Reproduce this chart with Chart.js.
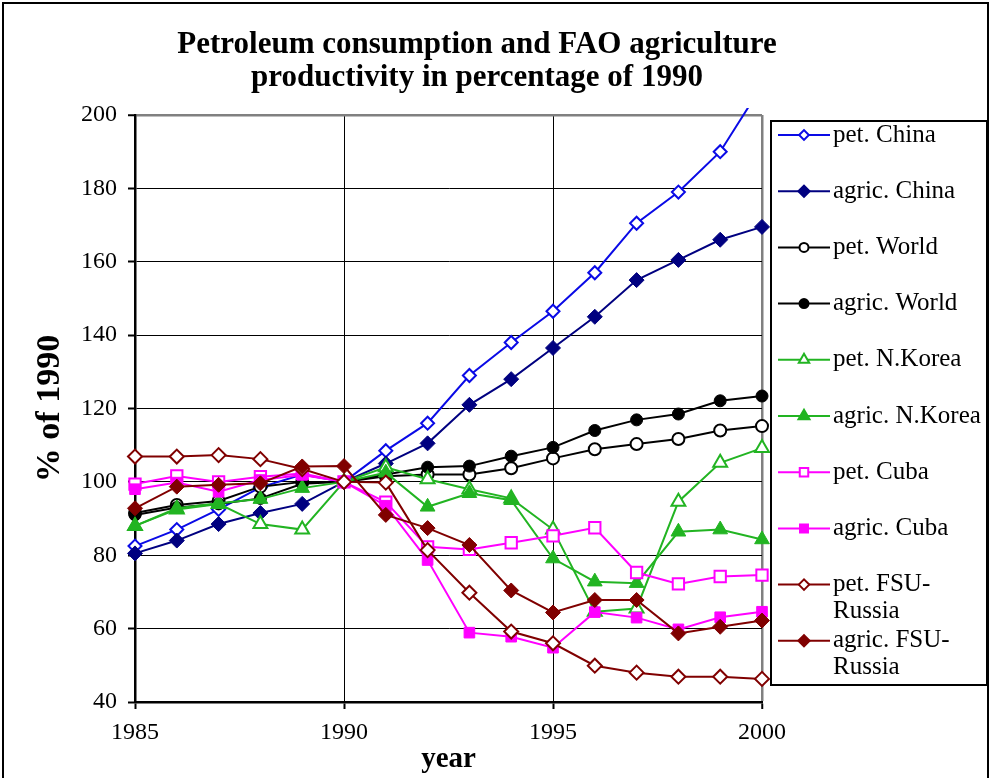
<!DOCTYPE html>
<html>
<head>
<meta charset="utf-8">
<script src="https://cdn.jsdelivr.net/npm/chart.js@4.4.1/dist/chart.umd.min.js"></script>
<style>
  html, body { margin: 0; padding: 0; background: #fff; }
  #wrap { width: 990px; height: 778px; position: relative; }
</style>
</head>
<body>
<div id="wrap"><canvas id="petro"></canvas></div>
<script>
// values, % of 1990
const years = [1985, 1986, 1987, 1988, 1989, 1990, 1991, 1992, 1993, 1994, 1995, 1996, 1997, 1998, 1999, 2000];
const petChina   = [82.5, 87, 92.5, 98.5, 102, 100, 108.5, 116, 129, 138, 146.5, 157, 170.5, 179, 190, 208];
const agricChina = [80.5, 84, 88.5, 91.5, 94, 100, 105, 110.5, 121, 128, 136.5, 145, 155, 160.5, 166, 169.5];
const petWorld   = [91.5, 93.7, 94.8, 98.7, 100, 100, 101.5, 102, 102, 103.7, 106.4, 108.9, 110.3, 111.7, 114, 115.2];
const agricWorld = [91, 93, 94, 95.5, 99.5, 100, 102, 104, 104.3, 107, 109.4, 114, 116.9, 118.5, 122.1, 123.4];
const petNKorea  = [88, 92.5, 94, 88.5, 87, 100, 104, 100.7, 98, 95.5, 87, 64.6, 65.5, 94.6, 105.2, 109.2];
const agricNKorea = [88, 92.8, 94.2, 95.3, 98.3, 100, 102.5, 93.2, 96.9, 95, 79.1, 72.8, 72.4, 86.4, 87, 84.3];
const petCuba    = [99.4, 101.6, 100, 101.4, 102.3, 100, 94.5, 82.3, 81.6, 83.4, 85.3, 87.5, 75.3, 72.2, 74.2, 74.6];
const agricCuba  = [98, 99.8, 97.3, 100.5, 101.9, 100, 93.5, 78.7, 58.9, 57.8, 54.8, 64.5, 63, 59.8, 63.1, 64.6];
const petFSU     = [106.9, 106.9, 107.3, 106.2, 103.5, 100, 99.8, 81.4, 69.8, 59.2, 56, 49.9, 48, 46.9, 46.9, 46.3];
const agricFSU   = [92.8, 98.7, 99.2, 99.6, 104.2, 104.3, 91, 87.4, 82.8, 70.4, 64.4, 67.8, 67.8, 58.7, 60.5, 62.2];

const seriesNames = ['pet. China', 'agric. China', 'pet. World', 'agric. World', 'pet. N.Korea',
  'agric. N.Korea', 'pet. Cuba', 'agric. Cuba', ['pet. FSU-', 'Russia'], ['agric. FSU-', 'Russia']];
const seriesValues = [petChina, agricChina, petWorld, agricWorld, petNKorea, agricNKorea, petCuba, agricCuba, petFSU, agricFSU];

const blue = '#0a0ae6', navy = '#000080', green = '#22b422', magenta = '#ff00ff', darkred = '#800000';
const styles = [
  { color: blue,    shape: 'rectRot',  r: 6.5, open: true },
  { color: navy,    shape: 'rectRot',  r: 7.5, open: false },
  { color: '#000',  shape: 'circle',   r: 6,   open: true },
  { color: '#000',  shape: 'circle',   r: 6,   open: false },
  { color: green,   shape: 'triangle', r: 8,   open: true },
  { color: green,   shape: 'triangle', r: 8.5, open: false },
  { color: magenta, shape: 'rect',     r: 8,   open: true },
  { color: magenta, shape: 'rect',     r: 7.5, open: false },
  { color: darkred, shape: 'rectRot',  r: 7,   open: true },
  { color: darkred, shape: 'rectRot',  r: 7.5, open: false }
];

const serif = '"Liberation Serif", "Times New Roman", serif';

const datasets = seriesValues.map((vals, i) => {
  const s = styles[i];
  return {
    label: Array.isArray(seriesNames[i]) ? seriesNames[i].join(' ') : seriesNames[i],
    data: years.map((y, k) => ({ x: y, y: vals[k] })),
    borderColor: s.color,
    borderWidth: 2,
    pointStyle: s.shape,
    pointRadius: s.r,
    pointBorderWidth: s.open ? 2 : 1,
    pointBorderColor: s.color,
    pointBackgroundColor: s.open ? '#fff' : s.color,
    tension: 0,
    order: seriesValues.length - i,
    clip: i === 0 ? { left: false, right: false, bottom: false, top: 7 } : false
  };
});

const sideBits = {
  id: 'sideBits',
  afterDraw(chart) {
    const ctx = chart.ctx;
    ctx.save();
    // outer frame
    ctx.strokeStyle = '#000';
    ctx.lineWidth = 2;
    ctx.beginPath();
    ctx.moveTo(3, 800); ctx.lineTo(3, 3); ctx.lineTo(988, 3); ctx.lineTo(988, 800);
    ctx.stroke();

    // title
    ctx.fillStyle = '#000';
    ctx.font = 'bold 31px ' + serif;
    ctx.textAlign = 'center';
    ctx.textBaseline = 'middle';
    ctx.fillText('Petroleum consumption and FAO agriculture', 477, 45);
    ctx.fillText('productivity in percentage of 1990', 477, 78);

    // legend
    ctx.lineWidth = 2;
    ctx.strokeRect(771, 121, 216, 564);
    ctx.font = '25px ' + serif;
    ctx.textAlign = 'left';
    seriesNames.forEach((name, i) => {
      const s = styles[i];
      const y = 135 + i * 56.2;
      ctx.strokeStyle = s.color;
      ctx.lineWidth = 2;
      ctx.beginPath();
      ctx.moveTo(778, y); ctx.lineTo(830, y);
      ctx.stroke();
      ctx.fillStyle = s.open ? '#fff' : s.color;
      Chart.helpers.drawPoint(ctx, {
        pointStyle: s.shape, rotation: 0, radius: s.r * 0.75, borderWidth: s.open ? 2 : 1
      }, 804, y);
      ctx.fillStyle = '#000';
      const lines = Array.isArray(name) ? name : [name];
      lines.forEach((t, k) => ctx.fillText(t, 833, y + k * 27));
    });
    ctx.restore();
  }
};

new Chart(document.getElementById('petro'), {
  type: 'line',
  data: { datasets },
  options: {
    responsive: true,
    maintainAspectRatio: false,
    animation: false,
    layout: { padding: { left: 10, top: 115, right: 228, bottom: 0 } },
    plugins: {
      legend: { display: false },
      title: { display: false },
      tooltip: { enabled: false }
    },
    scales: {
      x: {
        type: 'linear',
        min: 1985,
        max: 2000,
        afterFit: (scale) => { scale.height = 76; },
        ticks: { stepSize: 5, color: '#000', padding: 9, font: { family: serif, size: 24 }, maxRotation: 0,
          callback: (v) => String(v) },
        grid: {
          color: (c) => c.tick && c.tick.value === 2000 ? '#808080' : '#000',
          lineWidth: (c) => c.tick && c.tick.value === 2000 ? 2.5 : 1,
          tickColor: '#000',
          tickWidth: 2,
          tickLength: 7
        },
        border: { color: '#000', width: 2.5 },
        title: { display: true, text: 'year', color: '#000', font: { family: serif, size: 29, weight: 'bold' }, padding: { top: 0, bottom: 1 } }
      },
      y: {
        min: 40,
        max: 200,
        afterFit: (scale) => { scale.width = 125; },
        ticks: { stepSize: 20, color: '#000', padding: 11, font: { family: serif, size: 24 } },
        grid: {
          color: (c) => c.tick && c.tick.value === 200 ? '#808080' : '#000',
          lineWidth: (c) => c.tick && c.tick.value === 200 ? 2.5 : 1,
          tickColor: '#000',
          tickWidth: 2,
          tickLength: 7
        },
        border: { color: '#000', width: 2.5 },
        title: { display: true, text: '% of 1990', color: '#000', font: { family: serif, size: 34, weight: 'bold' }, padding: { top: 20, bottom: 0 } }
      }
    }
  },
  plugins: [sideBits]
});
</script>
</body>
</html>
